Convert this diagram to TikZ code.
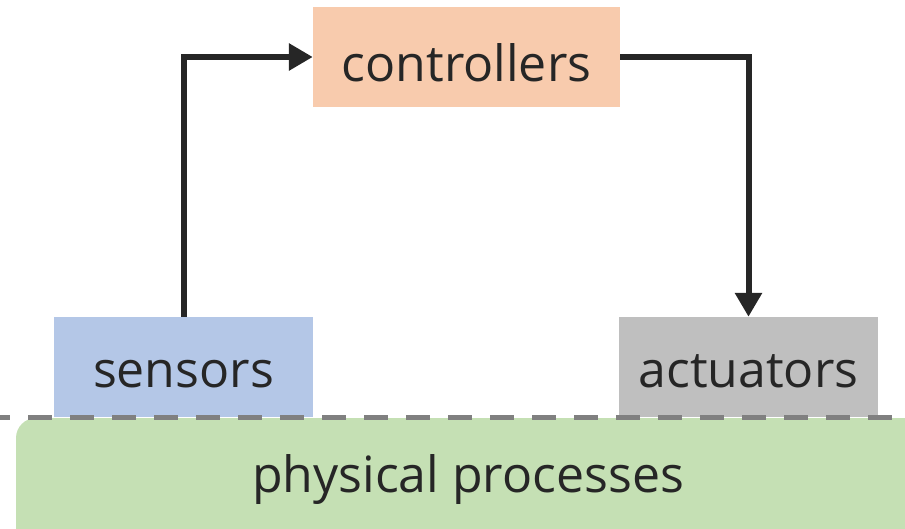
\documentclass[tikz,border=0pt]{standalone}
\usepackage{fontspec}
\setmainfont{Open Sans}
\usetikzlibrary{arrows.meta}
\definecolor{ctrlfill}{HTML}{F8CBAD}
\definecolor{sensfill}{HTML}{B4C7E7}
\definecolor{actfill}{HTML}{BFBFBF}
\definecolor{physfill}{HTML}{C5E0B4}
\definecolor{ink}{HTML}{262626}
\definecolor{dashgray}{HTML}{808080}
\tikzset{
  block/.style={inner sep=0pt, text=ink, text depth=0pt, font=\fontsize{50}{60}\selectfont},
  flow/.style={draw=ink, line width=6pt, -{Triangle[length=24pt,width=26pt]}}
}
\begin{document}
\begin{tikzpicture}[x=1pt,y=-1pt]
  \useasboundingbox (0,0) rectangle (905,529);
  % physical processes: rounded block running off the right and bottom edges
  \fill[physfill, rounded corners=20pt] (16,418) rectangle (940,560);
  \node[block, text height=28pt] (phys) at (468,478) {physical processes};
  % the three upper blocks
  \node[block, fill=ctrlfill, text height=49pt, minimum width=307pt, minimum height=100pt] (ctrl) at (466.5,57) {controllers};
  \node[block, fill=sensfill, text height=40pt, minimum width=259pt, minimum height=100pt] (sens) at (183.5,367) {sensors};
  \node[block, fill=actfill, text height=40pt, minimum width=259pt, minimum height=100pt] (act) at (748.5,367) {actuators};
  % boundary between cyber and physical parts
  \coordinate (bl) at (0,417);
  \coordinate (br) at (905,417);
  \draw[dashgray, line width=5pt, dash pattern=on 24pt off 18pt, dash phase=14pt] (bl) -- (br);
  % control loop
  \draw[flow] (sens.north) |- (ctrl.west);
  \draw[flow] (ctrl.east) -| (act.north);
\end{tikzpicture}
\end{document}
